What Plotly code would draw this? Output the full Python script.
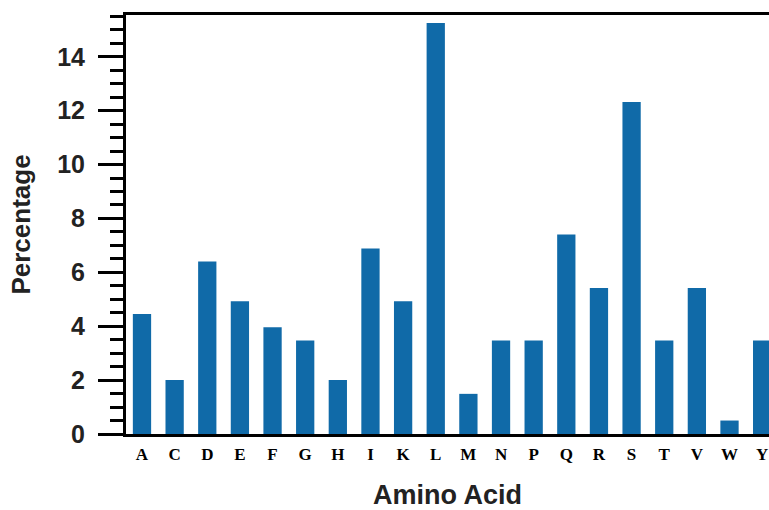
import plotly.graph_objects as go

amino_acids = ["A", "C", "D", "E", "F", "G", "H", "I", "K", "L",
               "M", "N", "P", "Q", "R", "S", "T", "V", "W", "Y"]
percentages = [4.45, 2.0, 6.4, 4.93, 3.96, 3.47, 2.0, 6.88, 4.93, 15.25,
               1.49, 3.47, 3.47, 7.4, 5.42, 12.32, 3.47, 5.42, 0.5, 3.47]

fig = go.Figure(go.Bar(
    x=amino_acids, y=percentages,
    marker=dict(color="#106aa8", line=dict(width=0)),
))

fig.update_layout(
    width=769, height=510,
    margin=dict(l=126, r=0, t=15, b=76),
    paper_bgcolor="white", plot_bgcolor="white",
    bargap=0.44,
    showlegend=False,
)

fig.update_xaxes(
    range=[-0.49, 19.21],
    automargin=False,
    showline=True, linecolor="black", linewidth=3, mirror=True,
    ticks="", showgrid=False,
    tickfont=dict(family="Liberation Serif", size=17, color="black", weight="bold"),
    ticklabelstandoff=3,
    title=dict(text="Amino Acid", font=dict(family="Liberation Sans", size=27, color="#222", weight="bold"),
               standoff=31),
)

fig.update_yaxes(
    range=[0, 15.55],
    automargin=False,
    showline=True, linecolor="black", linewidth=3, mirror=False,
    ticks="outside", ticklen=25, tickwidth=3, tickcolor="black",
    tickvals=[0, 2, 4, 6, 8, 10, 12, 14],
    minor=dict(dtick=0.5, ticks="outside", ticklen=13, tickwidth=3, tickcolor="black", showgrid=False),
    showgrid=False, zeroline=False,
    tickfont=dict(family="Liberation Sans", size=25, color="#222", weight="bold"),
    ticklabelstandoff=8,
    title=dict(text="Percentage", font=dict(family="Liberation Sans", size=26, color="#222", weight="bold"),
               standoff=20),
)

fig.write_html(
    "out.html",
    config={"displayModeBar": False},
    post_script="document.body.style.margin='0';document.body.style.overflow='hidden';",
)
